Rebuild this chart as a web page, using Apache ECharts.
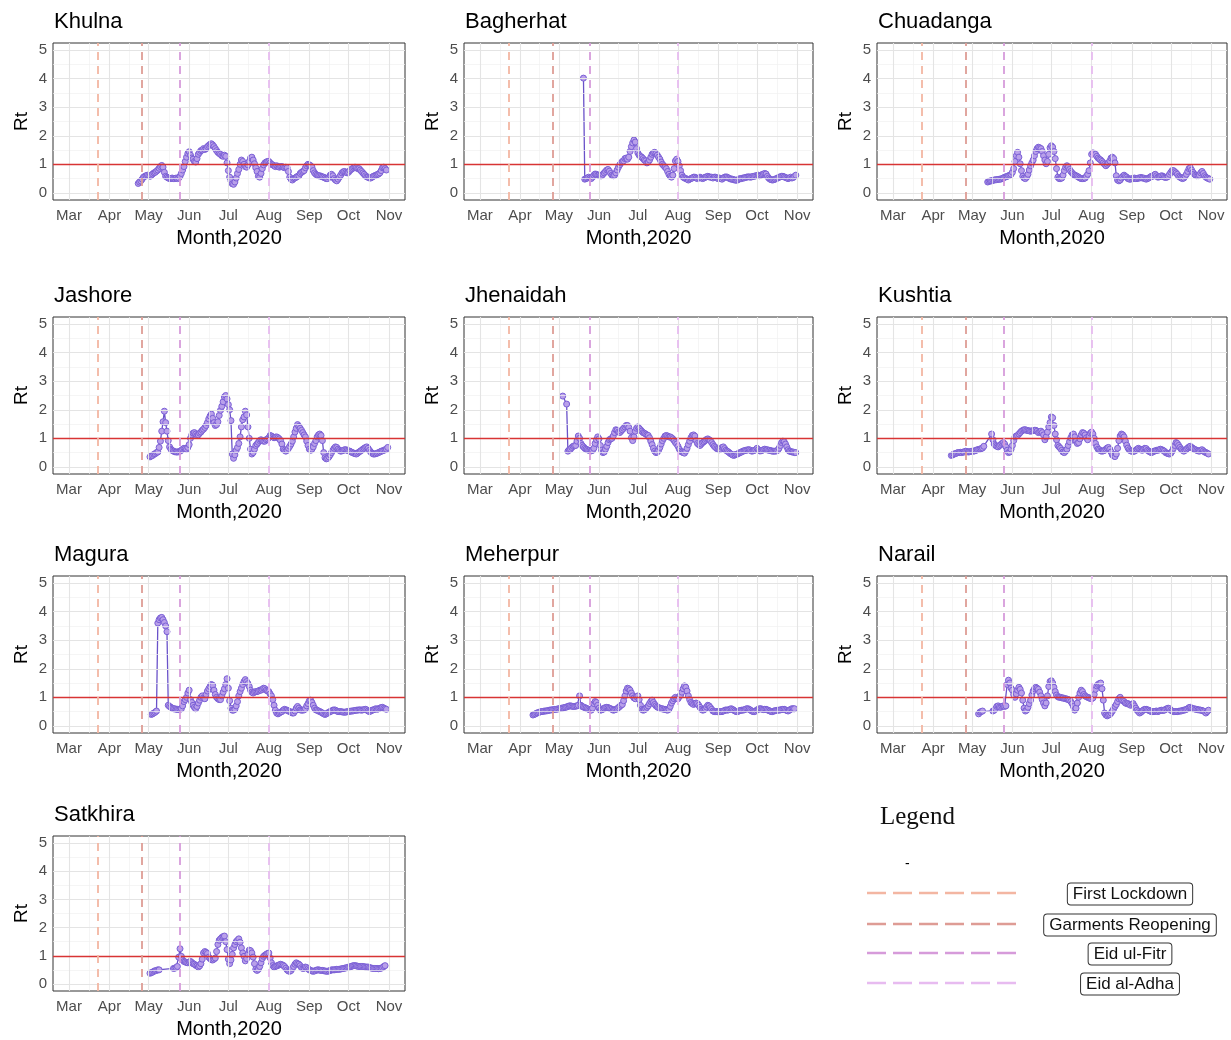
<!DOCTYPE html>
<html><head><meta charset="utf-8">
<script src="https://cdn.jsdelivr.net/npm/echarts@6.0.0/dist/echarts.min.js"></script>
<style>html,body{margin:0;padding:0;background:#fff}#chart{width:1231px;height:1040px}</style>
</head><body><div id="chart"></div>
<script>
// ---------------- DATA ----------------
const districts = ['Khulna','Bagherhat','Chuadanga','Jashore','Jhenaidah','Kushtia','Magura','Meherpur','Narail','Satkhira'];
const startDates = ['2020-04-23','2020-05-20','2020-05-13','2020-05-02','2020-05-04','2020-04-15','2020-05-03','2020-04-11','2020-05-06','2020-05-02'];
const monthLabels = ['Mar','Apr','May','Jun','Jul','Aug','Sep','Oct','Nov'];
const monthStarts = ['2020-03-01','2020-04-01','2020-05-01','2020-06-01','2020-07-01','2020-08-01','2020-09-01','2020-10-01','2020-11-01'];
const rtTicks = [0,1,2,3,4,5];
const threshold = 1;
const eventNames = ['First Lockdown','Garments Reopening','Eid ul-Fitr','Eid al-Adha'];
const eventDates = ['2020-03-23','2020-04-26','2020-05-25','2020-08-01'];

const khulnaRt = [0.33,0.38,0.42,0.48,0.55,0.58,0.60,0.62,0.60,0.58,
0.62,0.66,0.70,0.72,0.76,0.80,0.86,0.92,0.96,0.90,
0.72,0.58,0.55,0.52,0.50,0.50,0.52,0.50,0.50,0.52,
0.50,0.52,0.58,0.68,0.80,0.92,1.10,1.25,1.38,1.44,
1.32,1.22,1.18,1.10,1.08,1.20,1.35,1.42,1.48,1.50,
1.55,1.52,1.55,1.62,1.66,1.70,1.72,1.68,1.62,1.55,
1.48,1.42,1.38,1.35,1.30,1.28,1.32,1.28,1.05,0.78,
0.55,0.42,0.32,0.30,0.38,0.52,0.68,0.82,1.00,1.15,
1.10,1.00,0.92,0.90,0.98,1.10,1.22,1.25,1.15,1.02,
0.88,0.75,0.58,0.55,0.68,0.85,0.98,1.05,1.08,1.10,
1.10,1.05,1.00,0.98,0.95,0.92,0.95,0.92,0.90,0.92,
0.92,0.90,0.88,0.90,
0.88,0.75,0.55,0.48,0.45,0.50,0.52,0.55,0.58,0.60,
0.68,0.72,0.75,0.78,0.88,0.95,1.00,0.98,0.95,0.90,
0.78,0.70,0.65,0.62,0.60,0.60,0.58,0.56,0.55,0.52,
0.50,0.50,0.55,0.62,0.65,0.60,0.50,0.45,0.42,0.48,
0.55,0.62,0.70,0.74,0.75,0.72,0.70,0.72,0.78,0.82,
0.85,0.88,0.90,0.88,0.85,0.85,0.80,0.75,0.70,0.65,
0.60,0.56,0.55,0.52,0.52,0.55,0.58,0.60,0.62,0.64,
0.66,0.70,0.78,0.88,0.90,0.85,0.80];

const bagherhatRt = [4.02,0.48,0.50,0.52,0.55,0.52,0.50,0.55,0.62,0.66,
0.65,0.62,0.62,0.60,0.60,0.65,0.70,0.75,0.80,0.82,
0.76,0.68,0.62,0.60,0.62,0.70,0.80,0.90,0.98,1.05,
1.10,1.12,1.20,1.22,1.18,1.25,1.45,1.62,1.75,1.85,
1.78,1.55,1.40,1.32,1.28,1.25,1.20,1.15,1.12,1.05,
1.08,1.15,1.25,1.35,1.40,1.42,1.38,1.32,1.25,1.18,
1.08,1.00,0.95,0.90,0.85,0.75,0.65,0.58,0.55,0.62,
0.85,1.12,1.18,1.10,0.95,0.78,0.62,0.55,0.52,0.50,
0.48,0.45,0.48,0.50,0.52,0.55,0.55,0.52,0.50,0.52,
0.55,0.52,0.50,0.52,0.55,0.56,0.58,0.56,0.55,0.55,
0.52,0.55,0.55,0.52,0.50,0.52,0.50,0.48,0.52,0.55,
0.56,0.55,0.52,0.50,0.48,0.48,0.46,0.45,0.44,0.45,
0.48,0.50,0.50,0.52,0.52,0.54,0.55,0.56,0.56,0.55,
0.56,0.58,0.58,0.60,0.60,0.62,0.60,0.62,0.64,0.66,
0.68,0.66,0.58,0.52,0.48,0.46,0.45,0.46,0.48,0.50,
0.52,0.55,0.56,0.58,0.58,0.56,0.54,0.52,0.50,0.52,
0.55,0.52,0.54,0.58,0.62];

const chuadangaRt = [0.38,0.40,0.42,0.42,0.44,0.45,0.46,0.46,0.47,0.48,
0.48,0.50,0.52,0.55,0.56,0.58,0.60,0.62,0.65,0.72,
0.85,1.10,1.30,1.42,1.25,1.02,0.78,0.58,0.52,0.50,
0.55,0.65,0.80,0.95,1.05,1.15,1.30,1.45,1.55,1.60,
1.58,1.55,1.45,1.30,1.15,1.02,1.10,1.35,1.58,1.65,
1.60,1.45,1.20,0.85,0.55,0.50,0.50,0.52,0.62,0.78,
0.90,0.95,0.90,0.82,0.75,0.70,0.65,0.62,0.60,0.58,
0.55,0.52,0.50,0.50,0.50,0.52,0.58,0.65,0.78,1.05,
1.35,1.40,1.38,1.35,1.28,1.22,1.18,1.15,1.10,1.05,
1.00,0.95,1.00,1.05,1.12,1.22,1.25,1.20,1.05,0.60,
0.45,0.42,0.45,0.52,0.58,0.62,0.58,0.55,0.50,0.48,
0.48,0.50,0.50,0.52,0.50,0.50,0.52,0.52,0.54,0.52,
0.52,0.50,0.48,0.50,0.52,0.55,0.58,
0.58,0.62,0.65,0.60,0.55,0.56,0.58,0.60,0.58,0.55,
0.54,0.55,0.58,0.65,0.72,0.78,0.78,0.74,0.70,0.65,
0.58,0.55,0.52,0.50,0.52,0.58,0.65,0.75,0.85,0.88,
0.80,0.72,0.66,0.62,0.60,0.60,0.62,0.70,0.75,0.68,
0.60,0.55,0.52,0.50,0.48];

const jashoreRt = [0.35,0.38,0.40,0.44,0.46,0.50,0.52,0.68,0.90,1.25,
1.58,1.95,1.55,1.25,0.92,0.70,0.62,0.58,0.55,0.53,
0.52,0.52,0.53,0.55,0.58,0.62,0.65,0.64,0.62,0.68,
0.78,1.00,1.12,1.18,1.20,1.15,1.10,1.12,1.18,1.22,
1.28,1.32,1.38,1.45,1.55,1.68,1.78,1.85,1.70,1.55,
1.45,1.48,1.58,1.80,1.98,2.12,2.28,2.45,2.50,2.38,
2.18,2.00,1.62,0.45,0.30,0.42,0.58,0.68,0.82,1.05,
1.40,1.65,1.75,1.95,1.82,1.40,1.00,0.62,0.45,0.50,
0.62,0.75,0.80,0.86,0.92,0.95,0.92,0.90,0.90,0.95,
0.98,1.02,1.10,1.08,1.05,1.02,1.04,1.05,1.02,0.98,
0.92,0.80,0.62,0.58,0.55,0.58,0.65,0.72,0.80,0.90,
1.05,1.22,1.35,1.48,1.42,1.35,1.28,1.20,1.12,1.05,
0.90,0.75,0.62,0.58,0.62,0.70,0.82,0.92,1.05,1.12,
1.15,1.10,0.92,0.50,0.32,0.28,0.30,0.35,0.42,0.50,
0.58,0.65,0.70,0.68,0.62,0.58,0.55,0.56,0.58,0.60,
0.60,0.58,0.56,0.55,0.52,0.50,0.48,0.46,0.45,0.48,
0.52,0.55,0.58,0.62,0.65,0.68,0.70,0.65,0.58,0.52,
0.48,0.45,0.45,0.46,0.48,0.50,0.52,0.55,0.56,0.58,
0.60,0.62,0.68];

const jhenaidahRt = [2.48,null,null,2.20,0.55,0.60,0.62,0.68,0.72,0.74,
0.75,0.90,1.08,1.00,0.82,0.75,0.70,0.65,0.62,0.60,
0.58,0.58,0.56,0.58,0.65,0.82,0.95,1.05,0.98,0.75,
0.58,0.50,0.52,0.62,0.72,0.85,0.95,0.98,1.00,1.08,
1.20,1.30,1.28,1.22,1.20,1.25,1.30,1.35,1.40,1.45,
1.45,1.38,1.25,1.02,0.92,1.05,1.25,1.35,1.40,1.35,
1.30,1.25,1.20,1.18,1.15,1.12,1.10,1.02,0.90,0.78,
0.65,0.55,0.50,0.52,0.58,0.68,0.80,0.92,1.00,1.08,
1.10,1.08,1.05,1.05,1.02,0.98,0.92,0.85,0.80,0.72,
0.62,0.55,0.52,0.50,0.48,0.55,0.65,0.78,0.90,1.02,
1.10,1.12,1.08,0.92,0.82,0.78,0.75,0.80,0.85,0.88,
0.92,0.96,0.98,0.95,0.92,0.85,0.78,0.72,0.68,0.64,
0.62,0.60,0.62,0.68,0.70,0.64,0.58,0.55,0.52,0.48,
0.45,0.42,0.40,0.42,0.44,0.45,0.48,0.50,0.52,0.55,
0.56,0.58,0.58,0.60,0.60,0.58,0.55,0.56,0.58,0.60,
0.65,0.60,0.56,0.56,0.58,0.60,0.62,0.60,0.60,0.58,
0.58,0.56,0.55,0.55,0.55,0.56,0.58,0.65,0.75,0.85,
0.90,0.88,0.80,0.70,0.60,0.55,0.54,0.52,0.52,0.50,0.50];

const kushtiaRt = [0.40,0.42,0.45,0.46,0.48,0.50,0.50,0.51,0.50,0.52,
0.52,0.55,0.54,0.52,0.53,0.54,0.55,0.55,0.56,0.58,
0.60,0.61,0.62,0.64,0.66,0.72,null,null,null,null,
null,1.15,0.95,0.80,0.75,0.72,0.70,0.74,0.78,0.82,
0.85,0.80,0.70,0.58,0.50,0.52,0.62,0.75,0.92,1.05,
1.08,1.10,1.15,1.20,1.25,1.28,1.30,1.30,1.28,1.27,
1.26,1.25,1.26,1.27,1.28,1.28,1.25,1.20,1.22,1.25,
1.20,1.12,0.95,1.05,1.22,1.40,1.55,1.75,1.72,1.45,
1.15,0.95,0.75,0.70,0.65,0.58,0.52,0.50,0.55,0.62,
0.75,0.88,1.02,1.12,1.15,1.05,0.90,0.82,0.85,0.98,
1.12,1.20,1.18,1.12,1.02,0.95,1.08,1.18,1.22,1.15,
1.00,0.82,0.70,0.62,0.60,0.56,0.55,0.56,0.58,0.62,
0.66,0.68,0.62,0.52,0.42,0.38,0.36,0.45,0.65,0.92,
1.08,1.15,1.12,1.05,0.90,0.76,0.66,0.60,0.56,0.55,
0.54,0.55,0.58,0.62,0.65,0.62,0.60,0.58,0.62,0.65,
0.64,0.58,0.55,0.52,0.50,0.52,0.55,0.56,0.58,0.58,
0.60,0.62,0.60,0.58,0.55,0.50,0.48,0.46,0.45,0.48,
0.55,0.65,0.75,0.85,0.82,0.75,0.68,0.62,0.58,0.55,
0.58,0.62,0.66,0.70,0.72,0.68,0.65,0.62,0.60,0.58,
0.56,0.55,0.58,0.60,0.56,0.52,0.50,0.48,0.45];

const maguraRt = [0.40,0.42,0.45,0.48,0.52,3.60,3.72,3.78,3.80,3.72,
3.62,3.50,3.30,0.72,0.68,0.65,0.62,0.60,0.60,0.58,
0.58,0.57,0.58,0.60,0.70,0.85,0.92,1.00,1.15,1.25,
0.92,0.82,0.72,0.65,0.60,0.68,0.80,0.90,1.00,1.05,
0.98,0.95,1.10,1.22,1.30,1.38,1.45,1.42,1.25,1.10,
1.00,0.95,0.92,0.92,1.05,1.18,1.30,1.45,1.65,1.32,
0.88,0.62,0.55,0.55,0.58,0.70,0.85,1.05,1.20,1.32,
1.45,1.55,1.62,1.55,1.48,1.38,1.25,1.18,1.15,1.18,
1.20,1.20,1.22,1.25,1.25,1.28,1.32,1.30,1.25,1.22,
1.20,1.12,1.05,0.92,0.72,0.55,0.45,0.42,0.45,0.48,
0.50,0.55,0.58,0.56,0.55,0.52,0.50,0.48,0.45,0.45,
0.52,0.62,0.68,0.62,0.56,0.55,0.55,0.56,0.60,0.70,
0.78,0.88,0.90,0.82,0.72,0.62,0.56,0.55,0.52,0.50,
0.48,0.45,0.42,0.40,0.42,0.45,0.48,0.50,0.52,0.55,
0.56,0.55,0.52,0.50,0.50,0.50,0.49,0.48,0.48,0.48,
0.50,0.50,0.51,0.52,0.52,0.53,0.54,0.55,0.55,0.56,
0.56,0.55,0.56,0.57,0.58,0.56,0.52,0.50,0.52,0.55,
0.56,0.58,0.60,0.58,0.60,0.62,0.64,0.65,0.62,0.60,0.58];

const meherpurRt = [0.38,0.40,0.42,0.45,0.46,0.48,0.50,0.50,0.51,0.52,
0.52,0.53,0.54,0.55,0.56,0.56,0.57,0.58,0.58,0.59,
0.60,0.61,0.62,0.62,0.64,0.65,0.66,0.68,0.70,0.70,
0.69,0.68,0.68,0.69,0.70,0.72,1.05,0.72,0.68,0.66,
0.64,0.62,0.60,0.58,0.56,0.55,0.62,0.78,0.85,0.82,
0.72,0.62,0.55,0.56,0.58,0.62,0.64,0.65,0.64,0.62,
0.60,0.58,0.55,0.56,0.58,0.60,0.64,0.68,0.72,0.75,
0.88,1.05,1.22,1.32,1.30,1.25,1.15,1.05,0.98,0.95,
1.02,1.05,0.92,0.72,0.58,0.55,0.56,0.60,0.65,0.70,
0.78,0.85,0.90,0.82,0.75,0.70,0.66,0.64,0.62,0.60,
0.60,0.58,0.58,0.56,0.55,0.58,0.68,0.80,0.88,0.95,
1.00,0.96,0.95,1.02,1.08,1.18,1.30,1.40,1.35,1.22,
1.05,0.92,0.82,0.78,0.75,0.78,0.80,0.78,0.72,0.65,
0.58,0.55,0.56,0.60,0.66,0.72,0.70,0.64,0.58,0.52,
0.50,0.50,0.50,0.49,0.50,0.50,0.50,0.52,0.54,0.56,
0.55,0.56,0.58,0.60,0.58,0.55,0.52,0.50,0.50,0.52,
0.54,0.55,0.55,0.56,0.58,0.60,0.60,0.58,0.55,0.52,
0.50,0.50,0.52,0.56,0.58,0.60,0.60,0.58,0.57,0.58,
0.58,0.56,0.54,0.52,0.50,0.50,0.52,0.53,0.54,0.55,
0.55,0.56,0.57,0.58,0.58,0.56,0.54,0.52,0.55,0.58,0.60,0.60,0.60];

const narailRt = [0.42,0.48,0.50,0.52,null,null,null,null,null,null,
null,0.52,0.55,0.60,0.68,0.70,0.66,0.65,0.68,0.70,
0.68,0.70,1.45,1.60,1.50,1.32,1.25,1.10,1.00,1.12,
1.25,1.35,1.28,1.15,0.90,0.62,0.52,0.55,0.65,0.78,
0.90,1.08,1.22,1.30,1.35,1.32,1.28,1.18,1.05,0.92,
0.80,0.70,0.80,1.05,1.38,1.55,1.58,1.50,1.35,1.20,
1.08,1.02,1.00,1.00,0.98,0.98,0.96,0.95,0.94,0.92,
0.90,0.85,0.78,0.68,0.55,0.62,0.80,1.00,1.15,1.25,
1.20,1.10,1.05,1.02,1.00,0.98,0.96,0.95,0.98,1.10,
1.28,1.40,1.45,1.48,1.50,1.30,0.90,0.45,0.38,0.35,
0.38,0.40,0.45,0.52,0.60,0.68,0.75,0.85,0.95,1.00,
0.92,0.88,0.85,0.80,0.78,0.78,0.75,0.72,0.75,0.78,
0.70,0.62,0.55,0.50,0.45,0.48,0.52,0.56,0.58,0.58,
0.56,0.55,0.52,0.50,0.50,0.50,0.51,0.52,0.50,0.52,
0.54,0.55,0.54,0.55,0.58,0.60,0.62,0.60,0.55,0.52,
0.50,0.50,0.50,0.50,0.51,0.52,0.52,0.54,0.55,0.56,
0.58,0.60,0.64,0.65,0.62,0.60,0.60,0.58,0.58,0.56,
0.56,0.55,0.54,0.52,0.50,0.45,0.50,0.55];

const satkhiraRt = [0.38,0.40,0.42,0.45,0.47,0.48,0.50,0.50,null,null,
null,null,null,null,null,null,null,null,0.55,0.56,
0.58,0.62,0.95,1.25,0.98,0.85,0.80,0.78,0.76,0.75,
0.78,0.80,0.76,0.72,0.70,0.66,0.64,0.60,0.64,0.72,
0.88,1.10,1.15,1.12,1.08,0.95,0.90,0.86,0.85,0.88,
0.92,1.15,1.40,1.55,1.60,1.65,1.68,1.70,1.50,1.22,
0.88,0.72,0.85,1.05,1.28,1.40,1.50,1.55,1.60,1.48,
1.28,1.10,0.98,0.82,0.90,1.05,1.20,1.18,1.10,0.95,
0.72,0.52,0.48,0.52,0.62,0.75,0.90,0.98,1.02,1.05,
1.08,1.10,0.92,0.75,0.65,0.60,0.62,0.64,0.66,0.68,
0.70,0.68,0.66,0.62,0.56,0.50,0.46,0.45,0.48,0.55,
0.62,0.70,0.75,0.72,0.70,0.65,0.58,0.55,0.56,0.60,
0.58,0.54,0.50,0.48,0.46,0.45,0.46,0.48,0.50,0.50,
0.49,0.48,0.48,0.47,0.46,0.45,0.45,0.46,0.48,0.50,
0.50,0.50,0.51,0.52,0.52,0.52,0.53,0.54,0.55,0.56,
0.57,0.58,0.60,0.60,0.62,0.64,0.65,0.65,0.64,0.63,
0.62,0.62,0.62,0.62,0.61,0.60,0.60,0.60,0.58,0.57,
0.56,0.55,0.55,0.55,0.55,0.54,0.55,0.56,0.58,0.62,0.65];

const rtValues = [khulnaRt,bagherhatRt,chuadangaRt,jashoreRt,jhenaidahRt,kushtiaRt,maguraRt,meherpurRt,narailRt,satkhiraRt];

// ---------------- STYLE / LAYOUT ----------------
const FONT = '"Liberation Sans", Arial, Helvetica, sans-serif';
const eventColors = ['#F3B6A2','#DE9C95','#D69BDA','#E7BBF0'];
const colLeft = [53, 464, 877], colWidth = [352, 349, 350];
const rowTop = [43, 317, 576, 836], rowHeight = 157;

const BASE = Date.UTC(2020, 2, 1), DAY = 86400000;
const dayOf = s => Math.round((Date.parse(s) - BASE) / DAY);
const monthDays = monthStarts.map(dayOf);
const xSpan = monthDays[monthDays.length - 1] - monthDays[0];
const xMin = monthDays[0] - 0.05 * xSpan, xMax = monthDays[monthDays.length - 1] + 0.05 * xSpan;
const ySpan = rtTicks[rtTicks.length - 1] - rtTicks[0];
const yMin = rtTicks[0] - 0.05 * ySpan, yMax = rtTicks[rtTicks.length - 1] + 0.05 * ySpan;
const minorX = monthDays.slice(1).map((d, k) => (d + monthDays[k]) / 2);
const minorY = rtTicks.slice(1).map((d, k) => (d + rtTicks[k]) / 2);
const eventDays = eventDates.map(dayOf);

const grids = [], xAxes = [], yAxes = [], series = [], graphics = [];
districts.forEach((name, i) => {
  const col = i % 3, row = Math.floor(i / 3);
  grids.push({left: colLeft[col], top: rowTop[row], width: colWidth[col], height: rowHeight,
    show: true, borderColor: '#333', borderWidth: 1, backgroundColor: '#fff'});
  xAxes.push({type: 'value', gridIndex: i, min: xMin, max: xMax,
    axisLine: {show: false}, splitLine: {show: false},
    axisTick: {show: true, length: 4, customValues: monthDays, lineStyle: {color: '#333', width: 1}},
    axisLabel: {customValues: monthDays, formatter: v => monthLabels[monthDays.indexOf(Math.round(v))],
      fontSize: 15, color: '#4D4D4D', margin: 8, fontFamily: FONT, hideOverlap: false},
    name: 'Month,2020', nameLocation: 'middle', nameGap: 28,
    nameTextStyle: {fontSize: 20, color: '#000', fontFamily: FONT}});
  yAxes.push({type: 'value', gridIndex: i, min: yMin, max: yMax,
    axisLine: {show: false}, splitLine: {show: false},
    axisTick: {show: true, length: 4, customValues: rtTicks, lineStyle: {color: '#333', width: 1}},
    axisLabel: {customValues: rtTicks, fontSize: 15, color: '#4D4D4D', margin: 6, fontFamily: FONT},
    name: 'Rt', nameLocation: 'middle', nameGap: 22,
    nameTextStyle: {fontSize: 19, color: '#000', fontFamily: FONT}});

  const gl = [];
  minorX.forEach(v => gl.push({xAxis: v, lineStyle: {color: '#F0F0F0', width: 0.7, type: 'solid'}}));
  minorY.forEach(v => gl.push({yAxis: v, lineStyle: {color: '#F0F0F0', width: 0.7, type: 'solid'}}));
  monthDays.forEach(v => gl.push({xAxis: v, lineStyle: {color: '#E4E4E4', width: 1.1, type: 'solid'}}));
  rtTicks.forEach(v => gl.push({yAxis: v, lineStyle: {color: '#E4E4E4', width: 1.1, type: 'solid'}}));
  series.push({type: 'line', xAxisIndex: i, yAxisIndex: i, data: [], silent: true, z: 1,
    markLine: {silent: true, symbol: ['none', 'none'], label: {show: false}, animation: false, data: gl}});

  const s0 = dayOf(startDates[i]);
  const pts = [];
  rtValues[i].forEach((v, k) => { if (v !== null) pts.push([s0 + k, v]); });
  series.push({type: 'line', name: name, xAxisIndex: i, yAxisIndex: i, data: pts, silent: true, z: 3,
    symbol: 'circle', symbolSize: 6, showSymbol: true, showAllSymbol: true,
    lineStyle: {color: '#6A52C9', width: 1.3},
    itemStyle: {color: '#B9A0EA', borderColor: '#7A5FD6', borderWidth: 1}});

  const ev = [{yAxis: threshold, lineStyle: {color: '#D83434', width: 1.3, type: 'solid'}}];
  eventDays.forEach((d, k) => ev.push({xAxis: d, lineStyle: {color: eventColors[k], width: 2, type: [8, 6], opacity: 0.9}}));
  series.push({type: 'line', xAxisIndex: i, yAxisIndex: i, data: [], silent: true, z: 4,
    markLine: {silent: true, symbol: ['none', 'none'], label: {show: false}, animation: false, data: ev}});

  graphics.push({type: 'text', x: colLeft[col] + 1, y: rowTop[row] - 21, silent: true,
    style: {text: name, fontSize: 22, fontFamily: FONT, fill: '#000', textVerticalAlign: 'middle'}});
});

// Legend (annotation)
graphics.push({type: 'text', x: 880, y: 817, silent: true,
  style: {text: 'Legend', fontSize: 25, fontFamily: '"Liberation Serif", "Times New Roman", serif', fill: '#111', textVerticalAlign: 'middle'}});
graphics.push({type: 'text', x: 905, y: 864, silent: true,
  style: {text: '-', fontSize: 14, fontFamily: FONT, fill: '#000', textVerticalAlign: 'middle'}});
const legY = [893, 924, 953, 983];
eventNames.forEach((n, k) => {
  graphics.push({type: 'line', silent: true, shape: {x1: 867, y1: legY[k], x2: 1020, y2: legY[k]},
    style: {stroke: eventColors[k], lineWidth: 2.5, lineDash: [19, 7]}});
  graphics.push({type: 'text', x: 1130, y: legY[k] + 1, silent: true,
    style: {text: n, fontSize: 17, fontFamily: FONT, fill: '#111', textAlign: 'center', textVerticalAlign: 'middle',
      backgroundColor: '#fff', borderColor: '#333', borderWidth: 1, borderRadius: 3, padding: [2, 5]}});
});

const chart = echarts.init(document.getElementById('chart'), null, {renderer: 'canvas'});
chart.setOption({
  backgroundColor: '#fff', animation: false,
  grid: grids, xAxis: xAxes, yAxis: yAxes, series: series, graphic: graphics
});
</script></body></html>
